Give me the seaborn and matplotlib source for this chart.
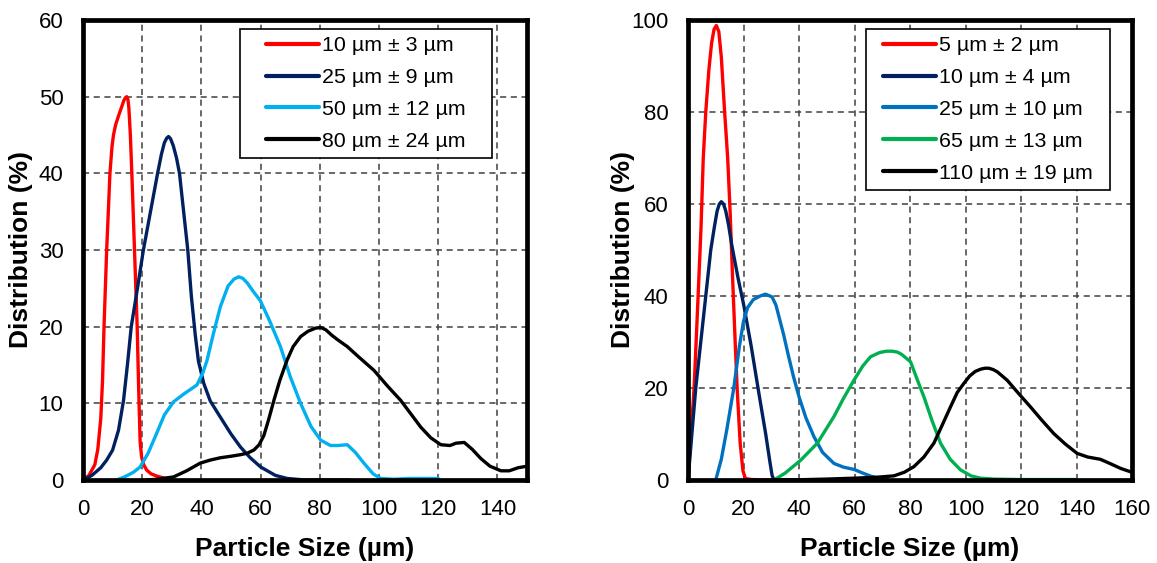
import numpy as np
import pandas as pd
import matplotlib
matplotlib.use("Agg")
import matplotlib.pyplot as plt
import seaborn as sns
from matplotlib.ticker import MultipleLocator
from matplotlib.patches import Rectangle

# ---------------- data ----------------
left_labels = ["10 µm ± 3 µm", "25 µm ± 9 µm", "50 µm ± 12 µm", "80 µm ± 24 µm"]
right_labels = ["5 µm ± 2 µm", "10 µm ± 4 µm", "25 µm ± 10 µm", "65 µm ± 13 µm", "110 µm ± 19 µm"]

# left panel
l1_x = [0, 2, 4, 5, 6, 6.6, 7.1, 8, 9.1, 9.8, 10.3, 11, 12, 13, 13.8, 14.4, 14.8, 15.2, 15.5, 16, 16.5, 17.4, 18.3, 18.8, 19.3, 19.8, 20.5, 21.5, 23, 25, 28, 30]
l1_y = [0, 0.6, 2, 4, 8, 13, 20, 30, 40, 43.5, 45, 46.3, 47.5, 48.6, 49.5, 49.9, 50, 49.6, 48.5, 45, 40, 30, 20, 12, 5, 3, 2, 1.3, 0.8, 0.5, 0.2, 0]

l2_x = [0, 3, 6, 8, 10, 12, 13.7, 15, 16.3, 18.4, 20.4, 22.8, 25.2, 26.5, 27.5, 28.3, 28.9, 29.6, 30.5, 31.6, 32.6, 34, 35.4, 36.6, 37.9, 39, 40.8, 43, 46.4, 50, 53.2, 56.5, 60, 65, 69, 75, 90]
l2_y = [0, 0.6, 1.6, 2.6, 3.9, 6.5, 10.4, 15, 20, 25, 30, 35, 40, 42.5, 44, 44.6, 44.8, 44.5, 43.6, 42, 40, 35, 30, 24, 19, 15.5, 12.6, 10.3, 8.2, 6, 4.3, 2.9, 1.7, 0.6, 0.2, 0, 0]

l3_x = [11.4, 14, 17, 19.3, 22, 24.9, 27.5, 30.6, 34, 38.5, 40.5, 41.9, 44, 46.4, 49, 51, 52.6, 54, 55.5, 57.5, 59.9, 63, 66.7, 70, 73.5, 77, 80.3, 83.6, 86, 89.3, 92, 94.9, 98, 100.6, 105, 110, 115, 120]
l3_y = [0, 0.4, 1, 1.7, 3.5, 6.1, 8.5, 10.2, 11.2, 12.4, 14, 15.6, 19, 22.6, 25.3, 26.2, 26.5, 26.3, 25.7, 24.6, 23.4, 20.8, 17.4, 13.5, 10, 7, 5.2, 4.5, 4.5, 4.6, 3.6, 2.2, 0.8, 0.2, 0.1, 0.2, 0.2, 0.2]

l4_x = [21.5, 25, 30.6, 35, 39.6, 43, 46.4, 50, 53.2, 55.5, 57.7, 59.5, 61.1, 62.8, 64.5, 66.5, 68.9, 71, 73.5, 76, 78.5, 80.3, 82, 84, 86, 89.3, 93, 98.3, 103, 107.3, 111, 114.1, 117.5, 120.9, 124, 126, 128.8, 131.5, 134.4, 137.5, 141.2, 144, 147, 150]
l4_y = [0, 0.1, 0.4, 1.2, 2.2, 2.6, 2.9, 3.1, 3.3, 3.5, 3.9, 4.6, 5.8, 8, 10.4, 13, 15.6, 17.4, 18.7, 19.4, 19.8, 19.9, 19.6, 18.9, 18.3, 17.4, 16.1, 14.3, 12.2, 10.4, 8.5, 6.9, 5.5, 4.6, 4.5, 4.8, 4.9, 4, 2.8, 1.8, 1.2, 1.2, 1.6, 1.8]

# right panel
r1_x = [0, 2.2, 3.5, 4.7, 5.5, 6.4, 7.5, 8.5, 9.4, 10.2, 11.1, 12, 13.2, 14.3, 15.2, 16, 17, 17.7, 18.8, 19.8, 20.7, 23, 30, 40]
r1_y = [0, 20, 38, 55, 70, 80, 89, 95, 98, 98.8, 97.5, 92, 80, 70, 58, 45, 30, 20, 8, 2, 0.3, 0.1, 0, 0]

r2_x = [0, 2.8, 4.6, 6.4, 8.2, 9.5, 10.5, 11.3, 12, 12.8, 13.6, 14.6, 15.8, 18, 20.1, 22.8, 25.5, 28, 29.5, 30.3, 31, 35, 40]
r2_y = [0, 20, 30, 40, 50, 55, 58.5, 60, 60.5, 60, 58.5, 55.5, 51, 44, 38, 29, 19, 10, 4, 1, 0, 0, 0]

r3_x = [10, 12, 14, 16.5, 18.5, 20, 21.5, 23.5, 26, 27.9, 30.3, 31.7, 33, 34.5, 36, 38, 40, 42.5, 45.4, 48.5, 52.6, 56, 59.8, 63, 66, 69.4, 72]
r3_y = [0, 4.5, 11, 20, 29, 34.5, 37.5, 39.2, 40, 40.4, 39.8, 38, 35, 31.5, 27.5, 22.5, 18.1, 13.5, 9.4, 6, 3.6, 2.8, 2.3, 1.5, 0.8, 0.3, 0.1]

r4_x = [31, 35, 40.6, 46.6, 52.6, 56, 59.8, 63, 65.8, 69, 71.5, 73.6, 75.5, 77, 80.2, 82.5, 85, 88, 91, 94.5, 98.2, 102, 105.4, 110, 120, 130, 140]
r4_y = [0, 1.5, 4.3, 8, 13.8, 17.7, 21.7, 24.8, 26.8, 27.7, 28, 28, 27.8, 27.3, 25.7, 22, 18.1, 12.8, 8, 4.5, 2.2, 0.9, 0.4, 0.2, 0.1, 0.1, 0.1]

r5_x = [30, 40, 50, 60, 68, 74.2, 78, 81.4, 85, 88.6, 91.5, 94.6, 97, 99.4, 101.5, 103.5, 105.5, 107, 108.4, 110, 111.5, 115, 119, 123.4, 127.5, 131.8, 136, 140.2, 144, 148.6, 152, 156, 159.4, 160]
r5_y = [0, 0.05, 0.2, 0.4, 0.6, 0.9, 1.7, 2.9, 5, 8, 11.8, 15.9, 19, 21, 22.6, 23.6, 24.1, 24.3, 24.3, 24, 23.5, 21.7, 18.9, 15.9, 13, 10.1, 7.8, 5.8, 5, 4.5, 3.6, 2.5, 1.8, 1.6]

left_colors = ["#FF0000", "#002060", "#00B0F0", "#000000"]
right_colors = ["#FF0000", "#002060", "#0070C0", "#00B050", "#000000"]


def long_frame(xs, ys, labels):
    parts = []
    for x, y, lab in zip(xs, ys, labels):
        parts.append(pd.DataFrame({"size": x, "dist": y, "series": lab}))
    return pd.concat(parts, ignore_index=True)


df_left = long_frame([l1_x, l2_x, l3_x, l4_x], [l1_y, l2_y, l3_y, l4_y], left_labels)
df_right = long_frame([r1_x, r2_x, r3_x, r4_x, r5_x], [r1_y, r2_y, r3_y, r4_y, r5_y], right_labels)

# ---------------- styling ----------------
sns.set_style("white")
plt.rcParams["font.family"] = ["Liberation Sans", "DejaVu Sans"]
plt.rcParams.update({"text.color": "black", "axes.labelcolor": "black",
                     "xtick.color": "black", "ytick.color": "black",
                     "xtick.labelcolor": "black", "ytick.labelcolor": "black"})

W, H = 1157, 563
fig = plt.figure(figsize=(W / 100, H / 100), dpi=100)
ax1 = fig.add_axes([83 / W, 1 - 480 / H, 444 / W, 460 / H])
ax2 = fig.add_axes([688 / W, 1 - 480 / H, 444 / W, 460 / H])

LEG_FS = 15.4
LEG_EXTRA_LEFT = 19   # extra horizontal padding of the legend boxes, pixels
LEG_EXTRA_RIGHT = 10


def style_axes(ax, df, labels, colors, xmax, ymax, ymajor, legend_anchor, ylab_x):
    sns.lineplot(data=df, x="size", y="dist", hue="series", hue_order=labels,
                 palette=dict(zip(labels, colors)), estimator=None, sort=False,
                 lw=2.4, ax=ax)
    for ln in ax.get_lines():
        ln.set_solid_joinstyle("round")
        ln.set_solid_capstyle("round")
    ax.set_xlim(0, xmax)
    ax.set_ylim(0, ymax)
    ax.xaxis.set_major_locator(MultipleLocator(20))
    ax.xaxis.set_minor_locator(MultipleLocator(10))
    ax.yaxis.set_major_locator(MultipleLocator(ymajor))
    ax.yaxis.set_minor_locator(MultipleLocator(ymajor / 2))
    ax.grid(True, which="major", color="#404040", linestyle=(0, (4, 3)), linewidth=1.1)
    ax.set_axisbelow(True)
    for s in ax.spines.values():
        s.set_visible(True)
        s.set_color("black")
        s.set_linewidth(3.4)
    ax.tick_params(which="both", direction="in", color="black", labelcolor="black",
                   width=1.2, labelsize=16, pad=14, length=6)
    ax.set_xlabel("Particle Size (µm)", fontsize=19, fontweight="bold", labelpad=12,
                  color="black")
    ax.set_ylabel("Distribution (%)", fontsize=19, fontweight="bold", color="black")
    ax.yaxis.set_label_coords(ylab_x, 0.5)
    handles, labs = ax.get_legend_handles_labels()
    for h in handles:
        h.set_linewidth(3)
    leg = ax.legend(handles, labs, loc="upper right", bbox_to_anchor=legend_anchor,
                    borderaxespad=0, fontsize=LEG_FS, frameon=False,
                    handlelength=2.48, handletextpad=0.15, labelspacing=0.6,
                    borderpad=0.33, labelcolor="black")
    leg.set_zorder(6)
    return leg


leg1 = style_axes(ax1, df_left, left_labels, left_colors, 150, 60, 10,
                  (0.921 - LEG_EXTRA_LEFT / 444, 0.980), -0.113)
leg2 = style_axes(ax2, df_right, right_labels, right_colors, 160, 100, 20,
                  (0.950 - LEG_EXTRA_RIGHT / 444, 0.980), -0.119)

# legend boxes: legend extent widened horizontally
fig.canvas.draw()
for ax, leg, extra in ((ax1, leg1, LEG_EXTRA_LEFT), (ax2, leg2, LEG_EXTRA_RIGHT)):
    bb = leg.get_window_extent()
    inv = ax.transAxes.inverted()
    (x0, y0) = inv.transform((bb.x0 - extra, bb.y0))
    (x1, y1) = inv.transform((bb.x1 + extra, bb.y1))
    ax.add_patch(Rectangle((x0, y0), x1 - x0, y1 - y0, transform=ax.transAxes,
                           facecolor="white", edgecolor="black", linewidth=1.2,
                           zorder=5.5, clip_on=False))

fig.savefig("out.png", dpi=100)
